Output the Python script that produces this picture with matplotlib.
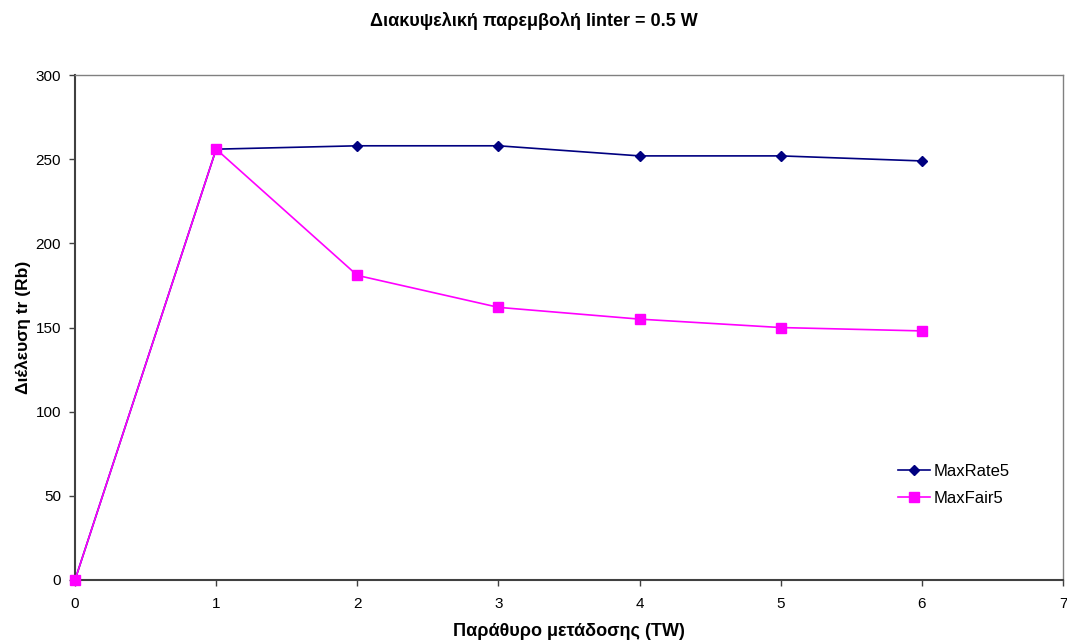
import matplotlib.pyplot as plt

plt.rcParams['font.family'] = ['Liberation Sans', 'DejaVu Sans']

# transmission window sizes
tw = [0, 1, 2, 3, 4, 5, 6]

# throughput per scheduler
max_rate5 = [0, 256, 258, 258, 252, 252, 249]
max_fair5 = [0, 256, 181, 162, 155, 150, 148]

fig = plt.figure(figsize=(10.67, 6.42), dpi=100)
ax = fig.add_axes([0.0703, 0.0966, 0.926, 0.7864])

ax.plot(tw, max_rate5, color='#000080', marker='D', markersize=5,
        linewidth=1.2, label='MaxRate5', clip_on=False, zorder=3)
ax.plot(tw, max_fair5, color='#FF00FF', marker='s', markersize=6.5,
        linewidth=1.2, label='MaxFair5', clip_on=False, zorder=4)

ax.set_xlim(0, 7)
ax.set_ylim(0, 300)
ax.set_xticks(range(0, 8))
ax.set_yticks(range(0, 301, 50))
ax.tick_params(labelsize=11, length=4, width=1, color='#404040')
ax.tick_params(axis='x', pad=8)
ax.tick_params(axis='y', pad=6)

for side in ['left', 'bottom']:
    ax.spines[side].set_color('#404040')
    ax.spines[side].set_linewidth(1.5)
for side in ['top', 'right']:
    ax.spines[side].set_color('#808080')
    ax.spines[side].set_linewidth(1)

ax.set_xlabel('Παράθυρο μετάδοσης (TW)', fontsize=13, fontweight='bold',
              labelpad=9)
ax.set_ylabel('Διέλευση tr (Rb)', fontsize=12.5, fontweight='bold',
              labelpad=3)
fig.text(0.5, 0.968, 'Διακυψελική παρεμβολή Iinter = 0.5 W', fontsize=13,
         fontweight='bold', ha='center', va='center')

ax.legend(loc='center left', bbox_to_anchor=(0.825, 0.188), frameon=False,
          fontsize=12, borderpad=0, handlelength=1.9, handletextpad=0.2,
          labelspacing=0.75)

fig.savefig('out.png', dpi=100)
